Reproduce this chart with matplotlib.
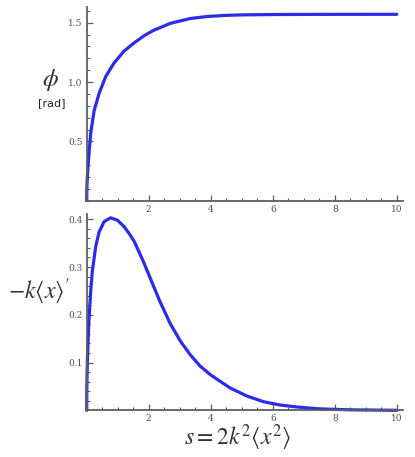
import matplotlib
matplotlib.use("Agg")
import matplotlib.pyplot as plt
from matplotlib.ticker import MultipleLocator

plt.rcParams["mathtext.fontset"] = "stix"

# values
s_phi = [0.0, 0.005, 0.02, 0.04, 0.074, 0.13, 0.24, 0.40, 0.61, 0.88, 1.2, 1.53,
         1.85, 2.15, 2.7, 3.33, 3.9, 4.5, 5.0, 6.0, 7.0, 8.0, 10.0]
phi = [0.0, 0.10, 0.20, 0.28, 0.40, 0.57, 0.76, 0.905, 1.045, 1.16, 1.26, 1.33,
       1.39, 1.435, 1.495, 1.535, 1.553, 1.562, 1.566, 1.569, 1.570, 1.5705, 1.5708]

s_dx = [0.0, 0.005, 0.02, 0.04, 0.074, 0.13, 0.18, 0.29, 0.40, 0.56, 0.77, 0.99,
        1.2, 1.37, 1.53, 1.72, 1.85, 2.04, 2.36, 2.69, 3.01, 3.33, 3.65, 4.0, 4.25,
        4.62, 5.16, 5.7, 6.24, 6.77, 7.5, 8.5, 10.0]
dx = [0.0, 0.05, 0.10, 0.14, 0.19, 0.25, 0.29, 0.343, 0.373, 0.395, 0.403, 0.398,
      0.385, 0.37, 0.354, 0.327, 0.308, 0.278, 0.228, 0.182, 0.146, 0.117, 0.093,
      0.074, 0.063, 0.047, 0.030, 0.018, 0.011, 0.007, 0.003, 0.001, 0.0]

W, H = 415, 457
LINE = "#2b2be8"
AX = "#5a5f5f"

fig = plt.figure(figsize=(W / 100, H / 100), dpi=100)
ax1 = fig.add_axes([86.7 / W, 1 - 200.7 / H, (403 - 86.7) / W, (200.7 - 7.3) / H])
ax2 = fig.add_axes([86.7 / W, 1 - 410.3 / H, (403 - 86.7) / W, (410.3 - 214) / H])


def style(ax, ymax, ymaj, ymin):
    ax.set_xlim(0, 10.2)
    ax.set_ylim(0, ymax)
    for side in ("top", "right"):
        ax.spines[side].set_visible(False)
    for side in ("left", "bottom"):
        ax.spines[side].set_color(AX)
        ax.spines[side].set_linewidth(1.3)
    ax.xaxis.set_major_locator(MultipleLocator(2))
    ax.xaxis.set_minor_locator(MultipleLocator(0.5))
    ax.yaxis.set_major_locator(MultipleLocator(ymaj))
    ax.yaxis.set_minor_locator(MultipleLocator(ymin))
    ax.tick_params(which="both", direction="in", color=AX, labelcolor="#505050",
                   labelsize=6.5, pad=3)
    ax.tick_params(which="major", length=4, width=0.9)
    ax.tick_params(which="minor", length=2, width=0.8)
    ax.set_xticks([2, 4, 6, 8, 10])
    ax.set_xticklabels(["2", "4", "6", "8", "10"], family="DejaVu Serif")


ax1.plot(s_phi, phi, color=LINE, lw=2.3, solid_capstyle="round", clip_on=False)
style(ax1, 1.63, 0.5, 0.1)
ax1.set_yticks([0.5, 1.0, 1.5])
ax1.set_yticklabels(["0.5", "1.0", "1.5"], family="DejaVu Serif")

ax2.plot(s_dx, dx, color=LINE, lw=2.3, solid_capstyle="round", clip_on=False)
style(ax2, 0.411, 0.1, 0.02)
ax2.set_yticks([0.1, 0.2, 0.3, 0.4])
ax2.set_yticklabels(["0.1", "0.2", "0.3", "0.4"], family="DejaVu Serif")

fig.text(50 / W, 1 - 80 / H, r"$\phi$", fontsize=18, ha="center", va="center", color="#333333")
fig.text(52 / W, 1 - 103 / H, "[rad]", fontsize=8, ha="center", va="center", color="#222222")
fig.text(39 / W, 1 - 291 / H, r"$-k\langle x\rangle^{\prime}$", fontsize=17, ha="center",
         va="center", color="#333333")
fig.text(238 / W, 1 - 437 / H, r"$s=2k^2\langle x^2\rangle$", fontsize=17, ha="center",
         va="center", color="#333333")

fig.savefig("out.png", dpi=100)
